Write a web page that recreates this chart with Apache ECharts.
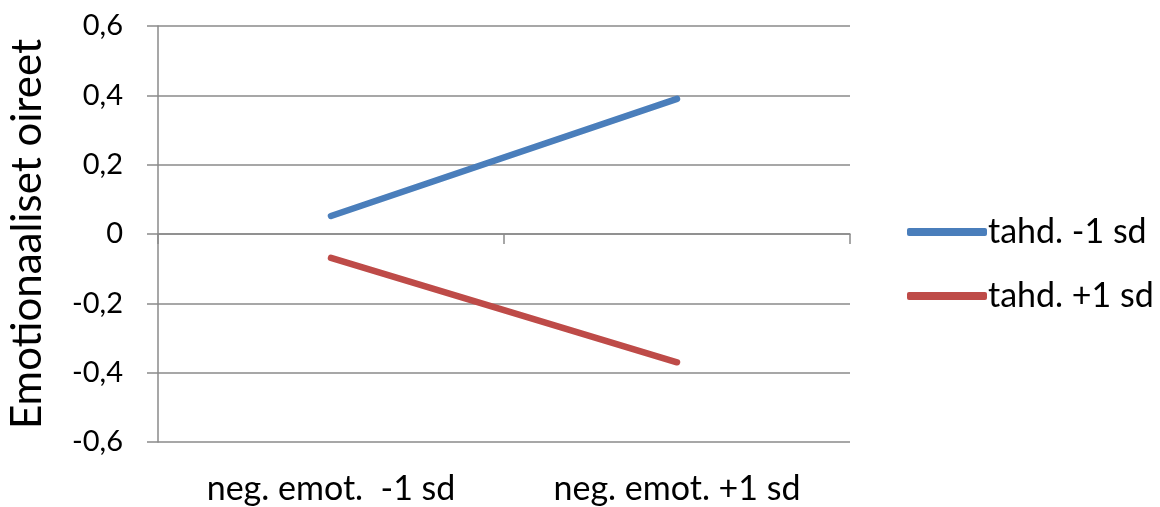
<!DOCTYPE html>
<html>
<head>
<meta charset="utf-8">
<script src="https://cdn.jsdelivr.net/npm/echarts@6/dist/echarts.min.js"></script>
<style>
  html, body { margin: 0; padding: 0; background: #fff; }
  #chart { width: 1160px; height: 507px; }
</style>
</head>
<body>
<div id="chart"></div>
<script>
// Categories along the x axis
const categories = ['neg. emot.  -1 sd', 'neg. emot. +1 sd'];
// Series names and their values
const seriesNames = ['tahd. -1 sd', 'tahd. +1 sd'];
const lowTahd = [0.052, 0.390];
const highTahd = [-0.069, -0.370];
const seriesColors = ['#4a7ebb', '#be4b48'];
// Y axis range and step
const yMin = -0.6, yMax = 0.6, yStep = 0.2;

const FONT = 'Lato';
const GRID_COLOR = '#8a8a8a';
const TEXT_COLOR = '#000';

const chart = echarts.init(document.getElementById('chart'), null, { renderer: 'canvas' });

// decimal comma, plain "0" at zero
const fmt = v => {
  const r = Math.round(v * 10) / 10;
  return r === 0 ? '0' : r.toFixed(1).replace('.', ',');
};

const lineSeries = (name, data, color) => ({
  name, type: 'line', data,
  xAxisIndex: 0,
  symbol: 'none',
  lineStyle: { color, width: 6.5, cap: 'round' },
  itemStyle: { color },
  animation: false
});

chart.setOption({
  backgroundColor: '#ffffff',
  grid: { left: 158, right: 310, top: 26, bottom: 65, containLabel: false, outerBoundsMode: 'none' },
  legend: {
    orient: 'vertical',
    left: 902,
    top: 210,
    itemWidth: 80,
    itemHeight: 8,
    itemGap: 30,
    icon: 'roundRect',
    textStyle: { fontFamily: FONT, fontSize: 34, color: TEXT_COLOR, padding: [0, 0, 0, -4] },
    data: seriesNames.map((n, i) => ({ name: n, itemStyle: { color: seriesColors[i] } }))
  },
  xAxis: [
    {
      // axis line crossing at zero, with tick marks between categories
      type: 'category',
      data: categories,
      boundaryGap: true,
      axisLine: { onZero: true, lineStyle: { color: GRID_COLOR, width: 1.5 } },
      axisTick: { show: true, length: 10, lineStyle: { color: GRID_COLOR, width: 1.5 } },
      axisLabel: { show: false },
      splitLine: { show: false }
    },
    {
      // category labels under the plot
      type: 'category',
      data: categories,
      position: 'bottom',
      boundaryGap: true,
      axisLine: { show: false, onZero: false },
      axisTick: { show: false },
      axisLabel: { fontFamily: FONT, fontSize: 34, color: TEXT_COLOR, margin: 30 },
      splitLine: { show: false }
    }
  ],
  yAxis: {
    type: 'value',
    min: yMin, max: yMax, interval: yStep,
    name: 'Emotionaaliset oireet',
    nameLocation: 'middle',
    nameGap: 110,
    nameRotate: 90,
    nameTextStyle: { fontFamily: FONT, fontSize: 42, color: TEXT_COLOR },
    axisLine: { show: true, lineStyle: { color: GRID_COLOR, width: 1.5 } },
    axisTick: { show: true, length: 11, lineStyle: { color: GRID_COLOR, width: 1.5 } },
    axisLabel: { fontFamily: FONT, fontSize: 29, color: TEXT_COLOR, margin: 35, formatter: fmt },
    splitLine: { show: true, lineStyle: { color: GRID_COLOR, width: 1.5 } }
  },
  series: [
    lineSeries(seriesNames[0], lowTahd, seriesColors[0]),
    lineSeries(seriesNames[1], highTahd, seriesColors[1])
  ]
});
</script>
</body>
</html>
